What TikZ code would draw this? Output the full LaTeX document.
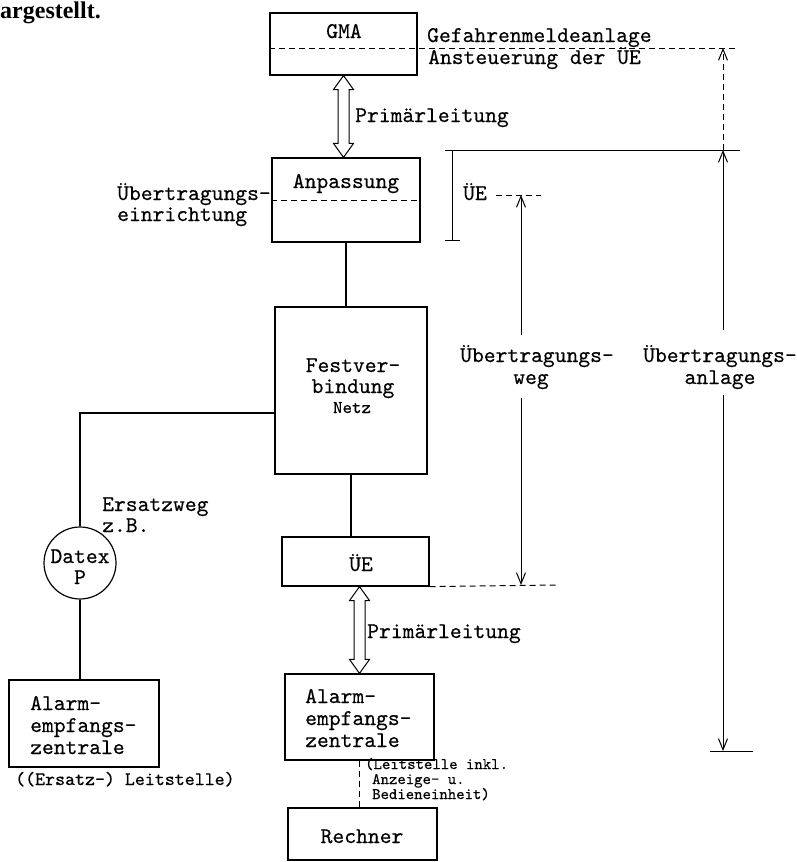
\documentclass[tikz,border=0pt]{standalone}
\usepackage{fontspec}
\newfontfamily\bookfont{Liberation Serif}
\newfontfamily\diag{lmmono10-regular.otf}[FakeBold=0.4]
\usetikzlibrary{arrows.meta,calc}
\newcommand\mydblarrow[2]{%
  \draw[line width=1pt, line join=miter] (#1) -- ++(-10,14) -- ++(4.5,0) -- ($(#2)+(-5.5,-14)$) -- ++(-4.5,0) -- (#2) -- ++(10,-14) -- ++(-4.5,0) -- ($(#1)+(5.5,14)$) -- ++(4.5,0) -- cycle;}
\begin{document}
\begin{tikzpicture}[x=1pt,y=-1pt,
  box/.style={draw, line width=1.2pt, inner sep=0pt},
  ln/.style={line width=1.2pt},
  dsh/.style={line width=1pt, dash pattern=on 6pt off 4pt},
  dim/.style={line width=1pt},
  arr/.style={dim, -{Straight Barb[length=11pt,width=9pt]}},
  t/.style={font=\diag\fontsize{22.5}{22}\selectfont, inner sep=0pt},
  ts/.style={font=\diag\fontsize{18}{18}\selectfont, inner sep=0pt},
  tx/.style={font=\diag\fontsize{16}{16}\selectfont, inner sep=0pt}]
\useasboundingbox (0,0) rectangle (797,862);

% heading fragment
\node[anchor=base west, inner sep=0pt, font=\bookfont\bfseries\fontsize{24}{24}\selectfont] (arg) at (0,18) {argestellt.};

% boxes
\node[box, minimum width=147pt, minimum height=62pt] (gma) at (343.5,44) {};
\node[box, minimum width=148pt, minimum height=84pt] (anp) at (346,200) {};
\node[box, minimum width=152pt, minimum height=167pt] (fest) at (351,390.5) {};
\node[box, minimum width=147pt, minimum height=49pt] (ue) at (355.5,561.5) {};
\node[box, minimum width=149pt, minimum height=86pt] (aez) at (359.5,717) {};
\node[box, minimum width=149pt, minimum height=52pt] (rech) at (362.5,834) {};
\node[box, minimum width=150pt, minimum height=87pt] (aezl) at (84,723.5) {};
\node[box, circle, minimum size=72pt] (datex) at (80,563) {};

% texts in boxes
\node[t, anchor=base] (tgma) at (344,38) {GMA};
\node[t, anchor=base] (tanp) at (346,188) {Anpassung};
\node[t, anchor=base] (tf1) at (353,372) {Festver–};
\node[t, anchor=base] (tf2) at (353,393) {bindung};
\node[ts, anchor=base] (tf3) at (352,413) {Netz};
\node[t, anchor=base] (tue) at (361,571) {ÜE};
\node[t, anchor=base west] (tam1) at (305,703) {Alarm–};
\node[t, anchor=base west] (tam2) at (305,725) {empfangs–};
\node[t, anchor=base west] (tam3) at (305,747) {zentrale};
\node[t, anchor=base] (trech) at (362,843) {Rechner};
\node[t, anchor=base west] (tal1) at (30,710) {Alarm–};
\node[t, anchor=base west] (tal2) at (30,732) {empfangs–};
\node[t, anchor=base west] (tal3) at (30,754) {zentrale};
\node[t, anchor=base] (tdat1) at (80,563) {Datex};
\node[t, anchor=base] (tdat2) at (80,584) {P};

% other texts
\node[t, anchor=base west] (tgef) at (427,42) {Gefahrenmeldeanlage};
\node[t, anchor=base west] (tans) at (428,64) {Ansteuerung der ÜE};
\node[t, anchor=base west] (tprim1) at (355,122) {Primärleitung};
\node[t, anchor=base west] (tueb1) at (117,200) {Übertragungs–};
\node[t, anchor=base west] (tueb2) at (117,221) {einrichtung};
\node[t, anchor=base west] (ters1) at (102,511) {Ersatzweg};
\node[t, anchor=base west] (ters2) at (102,532) {z.B.};
\node[font=\diag\fontsize{19}{19}\selectfont, inner sep=0pt, anchor=base west] (tersl) at (15,785) {((Ersatz–) Leitstelle)};
\node[t, anchor=base west] (tprim2) at (367,638) {Primärleitung};
\node[tx, anchor=base west] (tl1) at (365,769) {(Leitstelle inkl.};
\node[tx, anchor=base west] (tl2) at (372,784) {Anzeige– u.};
\node[tx, anchor=base west] (tl3) at (372,799) {Bedieneinheit)};
\node[t, anchor=base west] (tue2) at (463,200) {ÜE};
\node[t, anchor=base] (tuw1) at (537,362) {Übertragungs–};
\node[t, anchor=base] (tuw2) at (531,384) {weg};
\node[t, anchor=base] (tua1) at (720,362) {Übertragungs–};
\node[t, anchor=base] (tua2) at (720,384) {anlage};

% main connectors
\coordinate (p1t) at (gma.south);
\coordinate (p1b) at (gma.south |- anp.north);
\mydblarrow{p1t}{p1b}
\draw[ln] (anp.south) -- (anp.south |- fest.north);
\draw[ln] (fest.south) -- (fest.south |- ue.north);
\coordinate (p2t) at (aez.north |- ue.south);
\coordinate (p2b) at (aez.north);
\mydblarrow{p2t}{p2b}
\draw[dsh] (aez.south) -- (aez.south |- rech.north);
\draw[ln] ($(fest.west)+(0,22.5)$) -| (datex.north);
\draw[ln] (datex.south) -- (datex.south |- aezl.north);

% dashed separators
\coordinate (gdr) at (737,48);
\draw[dsh] (gma.west |- gdr) -- (gdr);
\draw[dsh] (anp.west) -- (anp.east);

% dimension lines
\coordinate (tl) at (445,150);
\coordinate (tr) at (740,150);
\draw[dim] (tl) -- (tr);
\coordinate (ib1) at (452,150);
\coordinate (ib2) at (452,240);
\draw[dim] (ib1) -- (ib2);
\draw[dim] ($(ib2)+(-7,0)$) -- ($(ib2)+(8,0)$);

\coordinate (uedash) at (496,195);
\coordinate (uwtop) at (521,195);
\coordinate (uwdend) at (541,195);
\draw[dsh, line width=0.9pt] (uedash) -- (uwdend);
\coordinate (uwa) at (521,335);
\coordinate (uwb) at (521,398);
\coordinate (uwbot) at (521,585);
\coordinate (uwend) at (558,585);
\draw[arr] (uwa) -- (uwtop);
\draw[arr] (uwb) -- (uwbot);
\draw[dsh] (ue.south east) -- (uwend);

\coordinate (ua0) at (723,48);
\coordinate (ua1) at (723,150);
\coordinate (ua2) at (723,330);
\coordinate (ua3) at (723,395);
\coordinate (ua4) at (723,751);
\draw[arr, dash pattern=on 6pt off 4pt] (ua1) -- (ua0);
\draw[arr] (ua2) -- (ua1);
\draw[arr] (ua3) -- (ua4);
\draw[dim] ($(ua4)+(-13,0)$) -- ($(ua4)+(30,0)$);
\end{tikzpicture}
\end{document}
